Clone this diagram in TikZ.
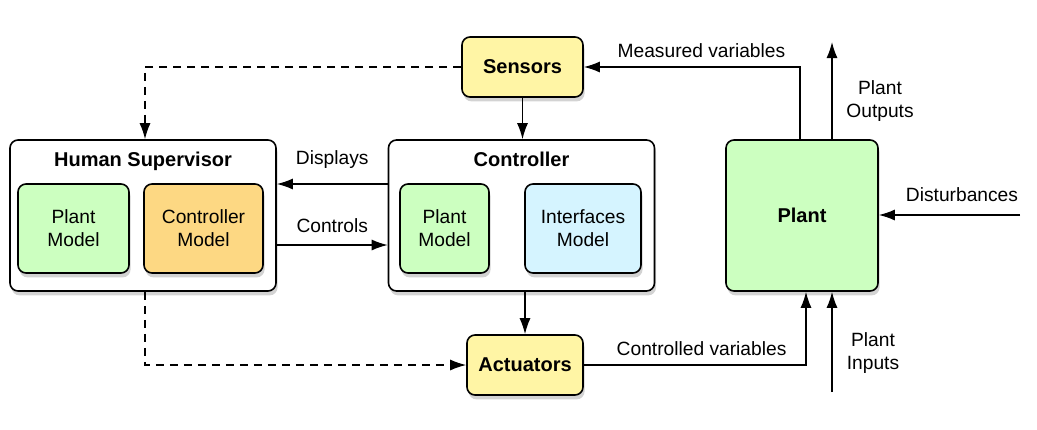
\documentclass[tikz,border=0pt]{standalone}
\usepackage{fontspec}
\setmainfont{Liberation Sans}
\usetikzlibrary{arrows.meta,shadows}
\definecolor{plantgreen}{RGB}{204,255,192}
\definecolor{ctrlorange}{RGB}{253,216,131}
\definecolor{ifblue}{RGB}{213,244,255}
\definecolor{devyellow}{RGB}{255,245,165}
\tikzset{%
    box/.style={%
        rectangle, rounded corners=4pt, draw=black, line width=0.8pt, align=center,
        drop shadow={shadow xshift=0.8pt, shadow yshift=-2.2pt, opacity=0.35}
    },
    group/.style={%
        box, fill=white, minimum width=133pt, minimum height=75.5pt
    },
    model/.style={%
        box, minimum height=44.5pt
    },
    device/.style={%
        box, fill=devyellow, font=\bfseries
    },
    title/.style={%
        font=\bfseries, anchor=north
    },
    flow/.style={%
        -{Latex[length=8pt,width=5.5pt]}, line width=0.7pt
    },
    supervise/.style={%
        flow, dashed, dash pattern=on 4pt off 3pt
    },
    txt/.style={%
        align=center
    },
}
\begin{document}
\begin{tikzpicture}[x=0.5pt,y=-0.5pt,font=\fontsize{9.6}{11.5}\selectfont]
  \useasboundingbox (0,0) rectangle (1037,429);

  % groups
  \node[group] (hs) at (143,215.5) {};
  \node[title] (hsTitle) at (143,145) {Human Supervisor};
  \node[model, fill=plantgreen, minimum width=55.5pt] (hsPlant) at (73.5,228.5) {Plant\\Model};
  \node[model, fill=ctrlorange, minimum width=59.5pt] (hsCtrl) at (203.5,228.5) {Controller\\Model};

  \node[group] (ctrl) at (521.5,215.5) {};
  \node[title] (ctrlTitle) at (521.5,145) {Controller};
  \node[model, fill=plantgreen, minimum width=44.5pt] (cPlant) at (444.5,228.5) {Plant\\Model};
  \node[model, fill=ifblue, minimum width=58pt] (cIf) at (583,228.5) {Interfaces\\Model};

  % devices and plant
  \node[device, minimum width=60.5pt, minimum height=30pt] (sens) at (522.5,67) {Sensors};
  \node[device, minimum width=58pt, minimum height=30pt] (act) at (525,365) {Actuators};
  \node[box, fill=plantgreen, font=\bfseries, minimum width=76pt, minimum height=75.5pt] (plant) at (802,215.5) {Plant};

  \coordinate (outEnd) at (832,42);
  \coordinate (inStart) at (832,392);
  \coordinate (distStart) at (1020,215);

  % signals
  \draw[flow] (sens) -- (sens |- ctrl.north);
  \draw[flow] (ctrl.south -| act) -- (act);
  \draw[flow] (ctrl.west |- 0,184) -- node[txt, above=4pt] {Displays} (hs.east |- 0,184);
  \draw[flow] (hs.east |- 0,245) -- node[txt, above=2.5pt] {Controls} (ctrl.west |- 0,245);
  \draw[flow] (plant.north -| 800,0) |- node[txt, pos=0.728, above=1pt] {Measured variables} (sens);
  \draw[flow] (act) -| node[txt, pos=0.265, above=1pt] {Controlled variables} (plant.south -| 806,0);
  \draw[flow] (plant.north -| outEnd) -- (outEnd);
  \draw[flow] (inStart) -- (plant.south -| inStart);
  \draw[flow] (distStart) -- (plant.east |- distStart);
  \node[txt] (outLbl) at (880,101) {Plant\\Outputs};
  \node[txt] (inLbl) at (873,353) {Plant\\Inputs};
  \node[txt] (distLbl) at (962,195) {Disturbances};

  % supervision
  \draw[supervise] (sens) -| (hs.north -| 145,0);
  \draw[supervise] (hs.south -| 145,0) |- (act);
\end{tikzpicture}
\end{document}
